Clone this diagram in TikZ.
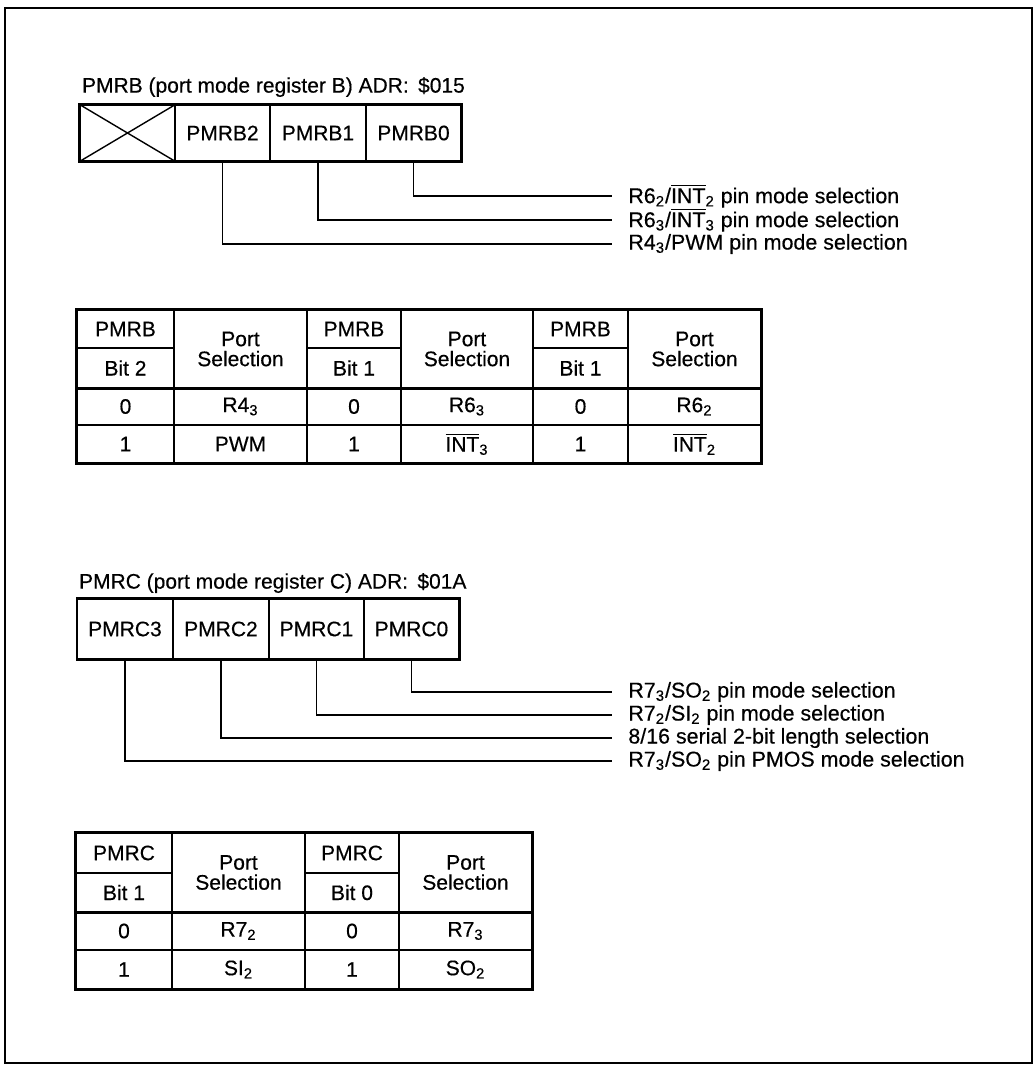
\documentclass[tikz,border=0pt]{standalone}
\usepackage{fontspec}
\setmainfont{Liberation Sans}[FakeBold=0.4]
\usepackage{tikz}
\usetikzlibrary{positioning}
\newcommand\figfont{\fontsize{10.5}{12}\selectfont}
\newcommand\pinfont{\fontsize{10.7}{12}\selectfont}
\newcommand\lowidx[1]{\textsubscript{#1}}
\newcommand\barred[1]{$\overline{\hbox{#1}}$}

\begin{document}
\begin{tikzpicture}[
  x=0.5pt, y=-0.5pt,
  reg/.style={draw, line width=0.7pt, minimum width=47.6pt, minimum height=#1,
    inner sep=0pt, font=\figfont},
  reg/.default={28pt},
  tcell/.style={draw, line width=0.7pt, inner sep=0pt, align=center, font=\figfont},
  pin/.style={anchor=west, inner xsep=8pt, inner ysep=0pt, font=\pinfont},
  ttl/.style={anchor=west, font=\figfont},
  lead/.style={line width=0.7pt},
  rim/.style={line width=1.2pt},
  midrule/.style={line width=1pt}
]
\useasboundingbox (0,0) rectangle (1036,1066);
\draw[line width=1pt] (5,8) rectangle (1032,1063);

% Register B
\node[ttl] (ttlB) at (75,87) {PMRB (port mode register B) ADR:\,\ \$015};
\node[reg] (b3) at (127.5,133) {};
\node[reg] (b2) at (222.5,133) {PMRB2};
\node[reg] (b1) at (318,133) {PMRB1};
\node[reg] (b0) at (413.5,133) {PMRB0};
\draw[lead] (b3.north west) -- (b3.south east) (b3.south west) -- (b3.north east);
\draw[rim] (b3.north west) rectangle (b0.south east);

\node[pin] (pinB0) at (612,196) {R6\lowidx{2}/\barred{INT}\lowidx{2} pin mode selection};
\node[pin] (pinB1) at (612,220) {R6\lowidx{3}/\barred{INT}\lowidx{3} pin mode selection};
\node[pin] (pinB2) at (612,244) {R4\lowidx{3}/PWM pin mode selection};
\draw[lead] (b0.south) |- (pinB0.west);
\draw[lead] (b1.south) |- (pinB1.west);
\draw[lead] (b2.south) |- (pinB2.west);

% Table for PMRB
\node[tcell, minimum width=48.5pt, minimum height=19pt] (tb-1-1) at (125.5,329) {PMRB};
\node[tcell, minimum width=48.5pt, minimum height=20pt] (tb-2-1) at (125.5,368) {Bit 2};
\node[tcell, minimum width=66.5pt, minimum height=39pt] (tb-1-2) at (240.5,349) {Port\\[-2pt]Selection};
\node[tcell, minimum width=47pt, minimum height=19pt] (tb-1-3) at (354,329) {PMRB};
\node[tcell, minimum width=47pt, minimum height=20pt] (tb-2-3) at (354,368) {Bit 1};
\node[tcell, minimum width=66pt, minimum height=39pt] (tb-1-4) at (467,349) {Port\\[-2pt]Selection};
\node[tcell, minimum width=47.5pt, minimum height=19pt] (tb-1-5) at (580.5,329) {PMRB};
\node[tcell, minimum width=47.5pt, minimum height=20pt] (tb-2-5) at (580.5,368) {Bit 1};
\node[tcell, minimum width=66.5pt, minimum height=39pt] (tb-1-6) at (694.5,349) {Port\\[-2pt]Selection};
\foreach \x/\w/\ta/\tb [count=\c] in {125.5/48.5/0/1, 240.5/66.5/R4\lowidx{3}/PWM,
    354/47/0/1, 467/66/R6\lowidx{3}/\barred{INT}\lowidx{3},
    580.5/47.5/0/1, 694.5/66.5/R6\lowidx{2}/\barred{INT}\lowidx{2}} {
  \node[tcell, minimum width=\w pt, minimum height=18.5pt] (tb-3-\c) at (\x,406.5) {\ta};
  \node[tcell, minimum width=\w pt, minimum height=19pt] (tb-4-\c) at (\x,444) {\tb};
}
\draw[midrule] (tb-2-1.south west) -- (tb-1-6.south east);
\draw[rim] (tb-1-1.north west) rectangle (tb-4-6.south east);

% Register C
\node[ttl] (ttlC) at (72,583) {PMRC (port mode register C) ADR:\,\ \$01A};
\node[reg=30pt] (c3) at (125,629) {PMRC3};
\node[reg=30pt] (c2) at (221,629) {PMRC2};
\node[reg=30pt] (c1) at (316.5,629) {PMRC1};
\node[reg=30pt] (c0) at (411.5,629) {PMRC0};
\draw[rim] (c3.north west) rectangle (c0.south east);

\node[pin] (pinC0) at (612,692) {R7\lowidx{3}/SO\lowidx{2} pin mode selection};
\node[pin] (pinC1) at (612,715) {R7\lowidx{2}/SI\lowidx{2} pin mode selection};
\node[pin] (pinC2) at (612,738) {8/16 serial 2-bit length selection};
\node[pin] (pinC3) at (612,761) {R7\lowidx{3}/SO\lowidx{2} pin PMOS mode selection};
\draw[lead] (c0.south) |- (pinC0.west);
\draw[lead] (c1.south) |- (pinC1.west);
\draw[lead] (c2.south) |- (pinC2.west);
\draw[lead] (c3.south) |- (pinC3.west);

% Table for PMRC
\node[tcell, minimum width=48pt, minimum height=20pt] (tc-1-1) at (124,853) {PMRC};
\node[tcell, minimum width=48pt, minimum height=19.5pt] (tc-2-1) at (124,892.5) {Bit 1};
\node[tcell, minimum width=66.5pt, minimum height=39.5pt] (tc-1-2) at (238.5,872.5) {Port\\[-2pt]Selection};
\node[tcell, minimum width=47pt, minimum height=20pt] (tc-1-3) at (352,853) {PMRC};
\node[tcell, minimum width=47pt, minimum height=19.5pt] (tc-2-3) at (352,892.5) {Bit 0};
\node[tcell, minimum width=66.5pt, minimum height=39.5pt] (tc-1-4) at (465.5,872.5) {Port\\[-2pt]Selection};
\foreach \x/\w/\ta/\tb [count=\c] in {124/48/0/1, 238.5/66.5/R7\lowidx{2}/SI\lowidx{2},
    352/47/0/1, 465.5/66.5/R7\lowidx{3}/SO\lowidx{2}} {
  \node[tcell, minimum width=\w pt, minimum height=19pt] (tc-3-\c) at (\x,931) {\ta};
  \node[tcell, minimum width=\w pt, minimum height=19.5pt] (tc-4-\c) at (\x,969.5) {\tb};
}
\draw[midrule] (tc-2-1.south west) -- (tc-1-4.south east);
\draw[rim] (tc-1-1.north west) rectangle (tc-4-4.south east);

\end{tikzpicture}
\end{document}
